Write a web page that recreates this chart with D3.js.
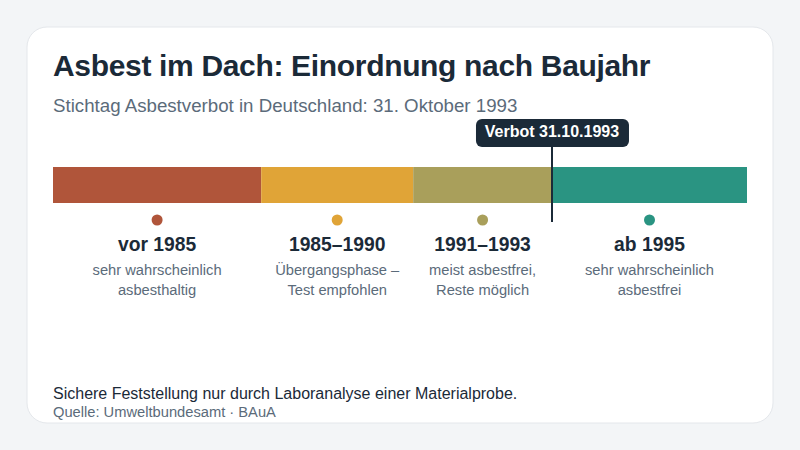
<!DOCTYPE html>
<html>
<head>
<meta charset="utf-8">
<script src="https://cdn.jsdelivr.net/npm/d3@7"></script>
<style>
  html, body { margin: 0; padding: 0; background: #f3f5f7; }
  svg { display: block; font-family: "Liberation Sans", sans-serif; }
</style>
</head>
<body>
<svg width="800" height="450"></svg>
<script>
const width = 800;
const height = 450;

// Chart data
const periods = ["vor 1985", "1985–1990", "1991–1993", "ab 1995"];
const shares = [30, 21.9, 20, 28.1]; // share of the bar in percent
const colors = ["#b0553a", "#e0a437", "#a99f5b", "#2a9482"];
const notesFirst = ["sehr wahrscheinlich", "Übergangsphase –", "meist asbestfrei,", "sehr wahrscheinlich"];
const notesSecond = ["asbesthaltig", "Test empfohlen", "Reste möglich", "asbestfrei"];
const markerLabel = "Verbot 31.10.1993";
const markerPos = 71.9; // percent along the bar

const svg = d3.select("svg");
const dark = "#1b2a38";
const grey = "#5b6b7a";

// Card
svg.append("rect")
  .attr("x", 27).attr("y", 27)
  .attr("width", 746).attr("height", 396)
  .attr("rx", 20)
  .attr("fill", "#fff")
  .attr("stroke", "#e4e7eb")
  .attr("stroke-width", 1);

// Titles
svg.append("text").attr("x", 53).attr("y", 76)
  .attr("font-size", 30).attr("font-weight", 700).attr("fill", dark)
  .attr("letter-spacing", -0.33)
  .text("Asbest im Dach: Einordnung nach Baujahr");
svg.append("text").attr("x", 53).attr("y", 112)
  .attr("font-size", 18.7).attr("fill", grey)
  .text("Stichtag Asbestverbot in Deutschland: 31. Oktober 1993");

// Stacked bar
const x = d3.scaleLinear().domain([0, 100]).range([53, 747]);
const segments = periods.map((p, i) => ({
  period: p,
  start: d3.sum(shares.slice(0, i)),
  end: d3.sum(shares.slice(0, i + 1)),
  color: colors[i],
  first: notesFirst[i],
  second: notesSecond[i]
}));
const mid = d => (x(d.start) + x(d.end)) / 2;

svg.append("g")
  .selectAll("rect")
  .data(segments)
  .enter()
  .append("rect")
  .attr("x", d => x(d.start))
  .attr("y", 167)
  .attr("width", d => x(d.end) - x(d.start))
  .attr("height", 36)
  .attr("fill", d => d.color);

// Labels below the bar
const labels = svg.append("g")
  .selectAll("g")
  .data(segments)
  .enter()
  .append("g")
  .attr("text-anchor", "middle");

labels.append("circle")
  .attr("cx", mid).attr("cy", 220).attr("r", 5.5)
  .attr("fill", d => d.color);
labels.append("text")
  .attr("x", mid).attr("y", 251)
  .attr("font-size", 19.3).attr("font-weight", 700).attr("fill", dark)
  .text(d => d.period);
labels.append("text")
  .attr("x", mid).attr("y", 275)
  .attr("font-size", 14.7).attr("fill", grey)
  .text(d => d.first);
labels.append("text")
  .attr("x", mid).attr("y", 295)
  .attr("font-size", 14.7).attr("fill", grey)
  .text(d => d.second);

// Marker for the ban date
const mx = x(markerPos);
svg.append("line")
  .attr("x1", mx).attr("x2", mx)
  .attr("y1", 147).attr("y2", 222)
  .attr("stroke", dark).attr("stroke-width", 2);
svg.append("rect")
  .attr("x", mx - 76).attr("y", 119)
  .attr("width", 153).attr("height", 28)
  .attr("rx", 6)
  .attr("fill", dark);
svg.append("text")
  .attr("x", mx).attr("y", 137)
  .attr("text-anchor", "middle")
  .attr("font-size", 16).attr("font-weight", 700).attr("fill", "#fff")
  .text(markerLabel);

// Footer
svg.append("text").attr("x", 53).attr("y", 399)
  .attr("font-size", 16).attr("fill", dark)
  .text("Sichere Feststellung nur durch Laboranalyse einer Materialprobe.");
svg.append("text").attr("x", 53).attr("y", 417)
  .attr("font-size", 14.7).attr("fill", grey)
  .text("Quelle: Umweltbundesamt · BAuA");
</script>
</body>
</html>
